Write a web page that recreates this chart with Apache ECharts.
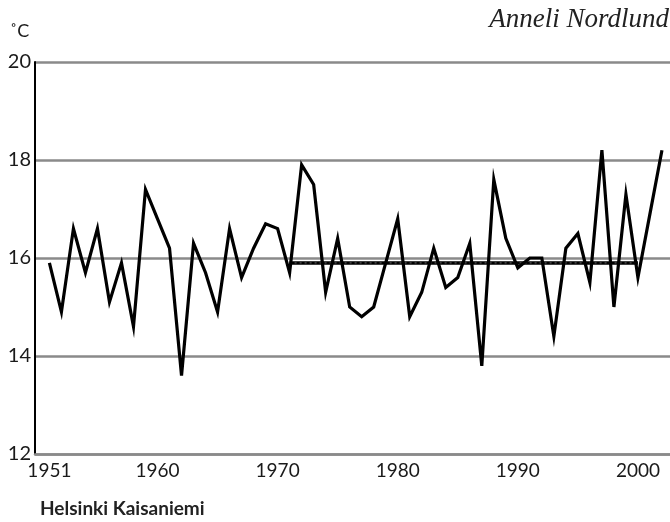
<!DOCTYPE html>
<html>
<head>
<meta charset="utf-8">
<script src="https://cdn.jsdelivr.net/npm/echarts@6/dist/echarts.min.js"></script>
<style>
	html, body { margin: 0; padding: 0; background: #fff; }
	#chart { width: 670px; height: 522px; }
</style>
</head>
<body>
<div id="chart"></div>
<script>
	// vuosikeskilämpötila, Helsinki Kaisaniemi 1951-2002
	const firstYear = 1951;
	const temps = [
		15.9, 14.9, 16.6, 15.7, 16.6, 15.1, 15.9, 14.6, 17.4, 16.8,
		16.2, 13.6, 16.3, 15.7, 14.9, 16.6, 15.6, 16.2, 16.7, 16.6,
		15.7, 17.9, 17.5, 15.3, 16.4, 15.0, 14.8, 15.0, 15.9, 16.8,
		14.8, 15.3, 16.2, 15.4, 15.6, 16.3, 13.8, 17.6, 16.4, 15.8,
		16.0, 16.0, 14.4, 16.2, 16.5, 15.5, 18.2, 15.0, 17.3, 15.6,
		16.9, 18.2
	];
	const years = temps.map((t, i) => firstYear + i);
	// 1971-2000 keskiarvo
	const normalYears = [1971, 2000];
	const normalValue = 15.9;
	const xLabels = [1951, 1960, 1970, 1980, 1990, 2000];
	const yTicks = [12, 14, 16, 18, 20];

	const font = 'Lato, "Open Sans", sans-serif';
	const chart = echarts.init(document.getElementById('chart'));
	const normalData = normalYears.map(y => [y, normalValue]);

	chart.setOption({
		animation: false,
		grid: { left: 35, right: 0, top: 62, bottom: 68 },
		xAxis: {
			type: 'value',
			min: 1949.8,
			max: 2002.67,
			axisLine: { show: true, lineStyle: { color: '#8a8a8a', width: 2.5 } },
			axisTick: { show: false },
			splitLine: { show: false },
			axisLabel: {
				customValues: xLabels,
				formatter: v => String(v),
				margin: 7,
				color: '#1a1a1a',
				fontSize: 19,
				fontFamily: font
			}
		},
		yAxis: {
			type: 'value',
			min: yTicks[0],
			max: yTicks[yTicks.length - 1],
			interval: 2,
			axisLine: { show: true, lineStyle: { color: '#000', width: 2 } },
			axisTick: { show: false },
			splitLine: { show: true, lineStyle: { color: '#8a8a8a', width: 2.5 } },
			axisLabel: {
				margin: 4,
				color: '#1a1a1a',
				fontSize: 20,
				fontFamily: font
			}
		},
		series: [
			{
				type: 'line',
				data: normalData,
				symbol: 'none',
				lineStyle: { color: '#000', width: 3.5 },
				z: 3
			},
			{
				type: 'line',
				data: normalData,
				symbol: 'none',
				lineStyle: { color: '#666', width: 1, type: [2, 3] },
				z: 4
			},
			{
				type: 'line',
				data: years.map((y, i) => [y, temps[i]]),
				symbol: 'none',
				lineStyle: { color: '#000', width: 3.2, join: 'miter' },
				z: 5
			}
		],
		graphic: [
			{
				type: 'text', left: 10, top: 22,
				style: { text: '˚C', fontSize: 18, fontFamily: font, fill: '#1a1a1a' }
			},
			{
				type: 'text', right: 1, top: 6,
				style: {
					text: 'Anneli Nordlund', fontSize: 27, fontStyle: 'italic',
					fontFamily: '"Liberation Serif", "DejaVu Serif", serif', fill: '#222'
				}
			},
			{
				type: 'text', left: 40, top: 499,
				style: {
					text: 'Helsinki Kaisaniemi', fontSize: 19, fontWeight: 'bold',
					fontFamily: font, fill: '#222'
				}
			}
		]
	});
</script>
</body>
</html>
